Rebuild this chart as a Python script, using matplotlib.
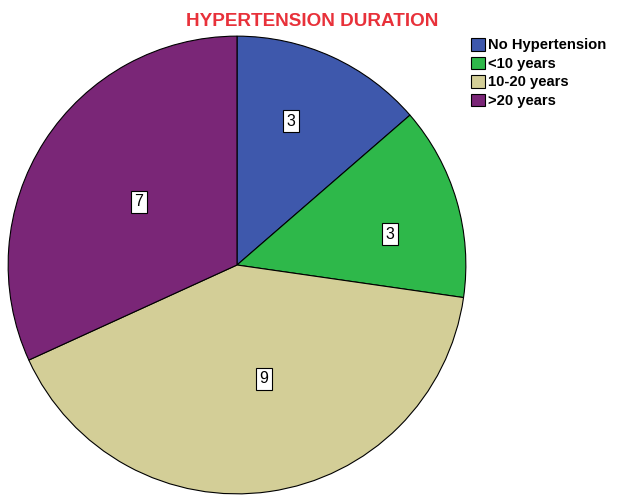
import numpy as np
import matplotlib
matplotlib.use("Agg")
import matplotlib.pyplot as plt

plt.rcParams['font.family'] = ['Liberation Sans', 'DejaVu Sans']

# data
labels = ["No Hypertension", "<10 years", "10-20 years", ">20 years"]
counts = [3, 3, 9, 7]
colors = ["#3E58AC", "#2EB84A", "#D3CE97", "#7A2677"]

# where SPSS put the count boxes (radius fraction, angle nudge in degrees)
lab_r = [0.67, 0.68, 0.51, 0.51]
lab_da = [4, -5, 5, 0]

fig = plt.figure(figsize=(6.26, 5.01), dpi=100)
ax = fig.add_axes([7 / 626, 6 / 501, 460 / 626, 460 / 501])

wedges, _ = ax.pie(counts, colors=colors, startangle=90, counterclock=False,
                   radius=1.0, wedgeprops=dict(edgecolor="black", linewidth=0.8))
ax.set_xlim(-1.005, 1.005)
ax.set_ylim(-1.005, 1.005)
ax.set_aspect("equal")

for w, n, r, da in zip(wedges, counts, lab_r, lab_da):
    mid = np.deg2rad((w.theta1 + w.theta2) / 2 + da)
    ax.text(r * np.cos(mid), r * np.sin(mid), str(n), ha="center", va="center",
            fontsize=11.5,
            bbox=dict(boxstyle="square,pad=0.22", facecolor="white",
                      edgecolor="black", linewidth=0.8))

fig.text(312 / 626, 1 - 22 / 501, "HYPERTENSION DURATION", ha="center", va="center",
         fontsize=13.6, fontweight="bold", color="#E8313A")

fig.legend(wedges, labels, loc="upper left", bbox_to_anchor=(471 / 626, 1 - 38 / 501),
           frameon=False, prop=dict(size=10.6, weight="bold"),
           handlelength=0.95, handleheight=0.95, handletextpad=0.2,
           labelspacing=0.28, borderaxespad=0, borderpad=0)

fig.savefig("out.png", dpi=100)
